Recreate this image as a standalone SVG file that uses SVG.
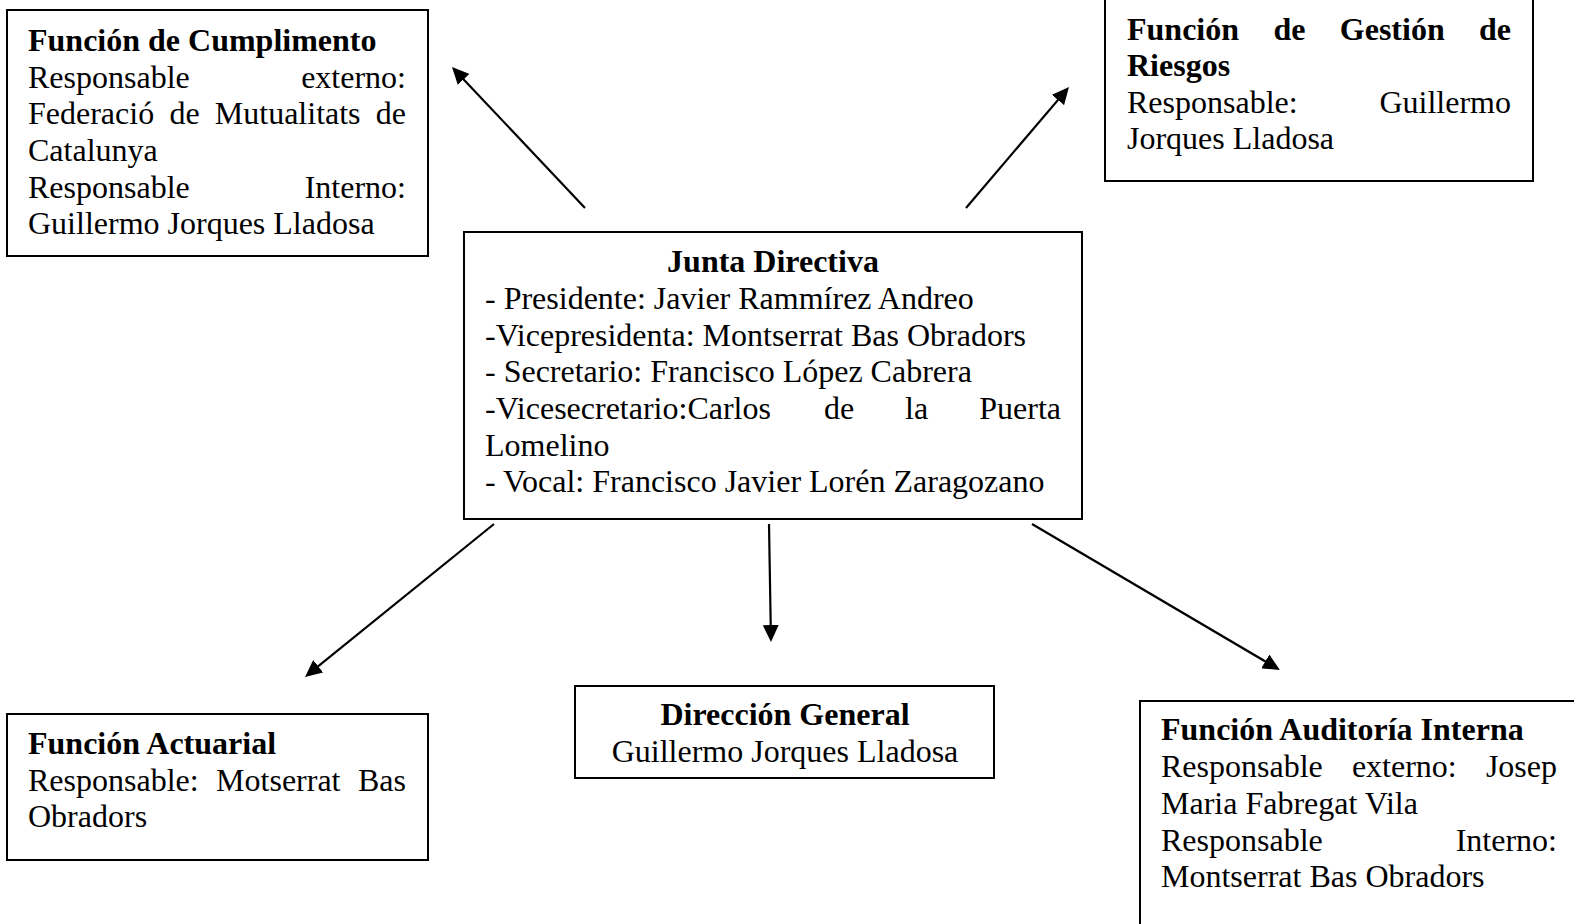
<svg xmlns="http://www.w3.org/2000/svg" width="1574" height="924" viewBox="0 0 1574 924">
<style>
.box{fill:#fff;stroke:#000;stroke-width:2}
text{font-family:"Liberation Serif","Times New Roman",serif;font-size:32px;fill:#000}
.b{font-weight:bold}
.e{text-anchor:end}
.m{text-anchor:middle}
.conn line{stroke:#000;stroke-width:2.2;fill:none;marker-end:url(#ah)}
</style>
<defs>
<marker id="ah" markerUnits="userSpaceOnUse" markerWidth="17" markerHeight="16" refX="11" refY="8" orient="auto" viewBox="0 0 17 16">
<path d="M0,0 L17,8 L0,16 z" fill="#000"/>
</marker>
</defs>
<rect width="1574" height="924" fill="#fff"/>

<g id="cumplimento">
<rect class="box" x="7" y="10" width="421" height="246"/>
<text class="b" x="28" y="51">Función de Cumplimento</text>
<text x="28" y="88">Responsable</text><text class="e" x="406" y="88">externo:</text>
<text x="28" y="124">Federació</text><text x="169.4" y="124">de</text><text x="214.8" y="124">Mutualitats</text><text class="e" x="406" y="124">de</text>
<text x="28" y="161">Catalunya</text>
<text x="28" y="198">Responsable</text><text class="e" x="406" y="198">Interno:</text>
<text x="28" y="234">Guillermo Jorques Lladosa</text>
</g>

<g id="riesgos">
<rect class="box" x="1105" y="-2" width="428" height="183"/>
<text class="b" x="1127" y="40">Función</text><text class="b" x="1273.4" y="40">de</text><text class="b" x="1339.8" y="40">Gestión</text><text class="b e" x="1511" y="40">de</text>
<text class="b" x="1127" y="76">Riesgos</text>
<text x="1127" y="113">Responsable:</text><text class="e" x="1511" y="113">Guillermo</text>
<text x="1127" y="149">Jorques Lladosa</text>
</g>

<g id="junta">
<rect class="box" x="464" y="232" width="618" height="287"/>
<text class="b m" x="773" y="272">Junta Directiva</text>
<text x="485" y="309">- Presidente: Javier Rammírez Andreo</text>
<text x="485" y="346">-Vicepresidenta: Montserrat Bas Obradors</text>
<text x="485" y="382">- Secretario: Francisco López Cabrera</text>
<text x="485" y="419">-Vicesecretario:Carlos</text><text x="824" y="419">de</text><text x="905" y="419">la</text><text class="e" x="1061" y="419">Puerta</text>
<text x="485" y="456">Lomelino</text>
<text x="485" y="492">- Vocal: Francisco Javier Lorén Zaragozano</text>
</g>

<g id="actuarial">
<rect class="box" x="7" y="714" width="421" height="146"/>
<text class="b" x="28" y="754">Función Actuarial</text>
<text x="28" y="791">Responsable:</text><text x="216.1" y="791">Motserrat</text><text class="e" x="406" y="791">Bas</text>
<text x="28" y="827">Obradors</text>
</g>

<g id="direccion">
<rect class="box" x="575" y="686" width="419" height="92"/>
<text class="b m" x="785" y="725">Dirección General</text>
<text class="m" x="785" y="762">Guillermo Jorques Lladosa</text>
</g>

<g id="auditoria">
<rect class="box" x="1140" y="701" width="480" height="260"/>
<text class="b" x="1161" y="740">Función Auditoría Interna</text>
<text x="1161" y="777">Responsable</text><text x="1351.9" y="777">externo:</text><text class="e" x="1557" y="777">Josep</text>
<text x="1161" y="814">Maria Fabregat Vila</text>
<text x="1161" y="851">Responsable</text><text class="e" x="1557" y="851">Interno:</text>
<text x="1161" y="887">Montserrat Bas Obradors</text>
</g>

<g id="connectors" class="conn">
<line x1="585" y1="208" x2="456.1" y2="71.4"/>
<line x1="966" y1="208" x2="1065.1" y2="91.6"/>
<line x1="494" y1="524" x2="309.7" y2="673.2"/>
<line x1="769" y1="524" x2="770.9" y2="636"/>
<line x1="1032" y1="524" x2="1274.8" y2="667"/>
</g>
</svg>
